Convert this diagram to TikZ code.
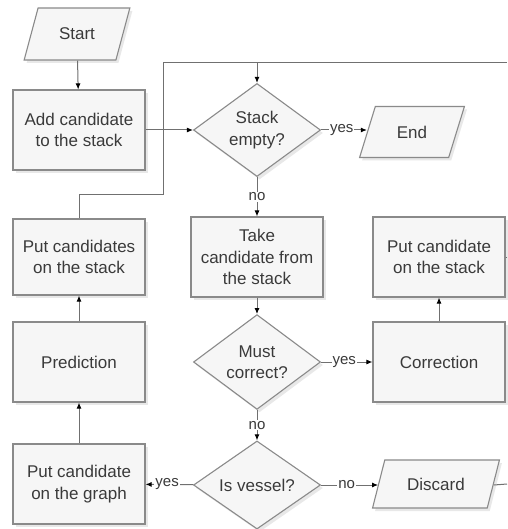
\documentclass[tikz,border=0pt]{standalone}
\usepackage{fontspec}
\setmainfont{Liberation Sans}
\usetikzlibrary{shapes.geometric,arrows.meta,shadows}
\definecolor{boxfill}{HTML}{F6F6F6}
\definecolor{boxline}{HTML}{8A8A8A}
\definecolor{txt}{HTML}{3A3A3A}
\definecolor{conn}{HTML}{707070}
\tikzset{
  base/.style={draw=boxline, line width=1.1pt, fill=boxfill, text=txt, align=center,
    font=\fontsize{17}{21.5}\selectfont,
    drop shadow={shadow xshift=2.5pt, shadow yshift=-3pt, fill=black!20, opacity=.45}},
  procbox/.style={base, rectangle, minimum width=132pt, minimum height=80pt, inner sep=2pt},
  decision/.style={base, diamond, minimum width=127pt, minimum height=76pt, inner sep=0pt},
  io/.style={base, trapezium, trapezium left angle=66, trapezium right angle=114,
    trapezium stretches=true, inner sep=2pt},
  conn/.style={draw=conn, line width=1pt},
  arr/.style={conn, -{Latex[length=6pt,width=5pt,black]}},
  lbl/.style={fill=white, text=txt, inner sep=1pt, font=\fontsize{15}{17}\selectfont}
}
\begin{document}
\begin{tikzpicture}[x=1pt,y=-1pt]
\useasboundingbox (0,0) rectangle (507,529);
\fill[white] (0,0) rectangle (507,529);

\node[io, minimum width=106pt, minimum height=52pt] (start) at (77,34) {Start};
\node[procbox] (add) at (79,130) {Add candidate\\to the stack};
\node[decision] (se) at (257,130) {Stack\\empty?};
\node[io, minimum width=105pt, minimum height=51pt] (end) at (412,132) {End};
\node[procbox, minimum height=76pt] (putL) at (79,257) {Put candidates\\on the stack};
\node[procbox] (take) at (257,257) {Take\\candidate from\\the stack};
\node[procbox] (putR) at (439,257) {Put candidate\\on the stack};
\node[procbox] (pred) at (79,362) {Prediction};
\node[decision] (mc) at (257,362) {Must\\correct?};
\node[procbox] (corr) at (439,362) {Correction};
\node[procbox] (graph) at (79,484) {Put candidate\\on the graph};
\node[decision] (iv) at (257,485) {Is vessel?};
\node[io, minimum width=127pt, minimum height=48pt] (disc) at (436,484) {Discard};

\coordinate (topL) at (163,63);
\coordinate (topM) at (257,63);
\coordinate (topR) at (507,63);
\coordinate (bendA) at (163,195);
\coordinate (bendB) at (79,195);
\coordinate (edgeR1) at (507,257);
\coordinate (edgeR2) at (507,484);

\draw[arr] (start) -- (add);
\draw[arr] (add) -- (se);
\draw[arr] (se) -- node[lbl, pos=0.45] {yes} (end.west |- se);
\draw[arr] (se) -- node[lbl] {no} (take);
\draw[arr] (take) -- (mc);
\draw[arr] (mc) -- node[lbl, pos=0.45] {yes} (corr);
\draw[arr] (corr) -- (putR);
\draw[conn] (putR) -- (edgeR1);
\draw[arr] (mc) -- node[lbl] {no} (iv);
\draw[arr] (iv) -- node[lbl, pos=0.55] {yes} (graph);
\draw[arr] (iv) -- node[lbl, pos=0.45] {no} (disc.west |- iv);
\draw[conn] (disc.east |- iv) -- (edgeR2);
\draw[arr] (graph) -- (pred);
\draw[arr] (pred) -- (putL);
\draw[conn] (putL.north) -- (bendB) -- (bendA) -- (topL) -- (topR);
\draw[arr] (topM) -- (se.north);
\end{tikzpicture}
\end{document}
